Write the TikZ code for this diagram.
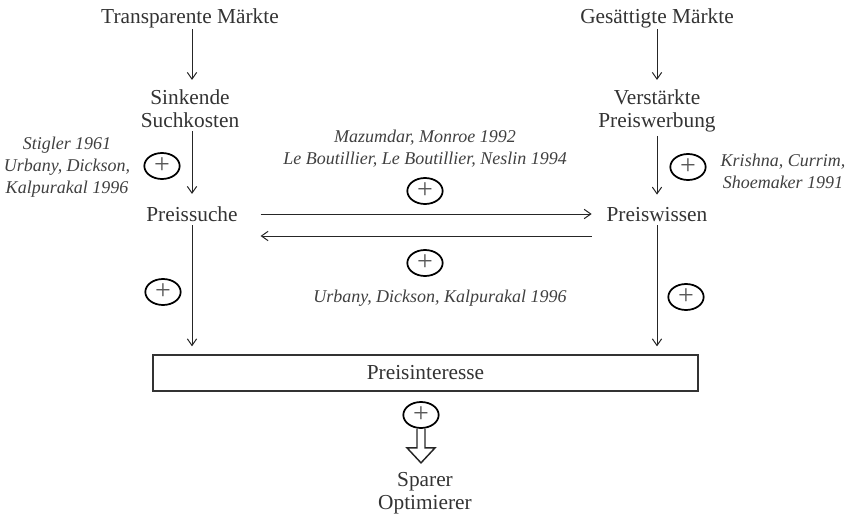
\documentclass[tikz,border=0pt]{standalone}
\usepackage{fontspec}
\setmainfont{Liberation Serif}
\usepackage{tikz}
\usetikzlibrary{positioning,arrows.meta,shapes.geometric}
\usepackage{xcolor}

\begin{document}
\begin{tikzpicture}[
    x=0.75pt, y=-0.75pt,
    begriff/.style={align=center, inner sep=1pt, font=\fontsize{16}{17}\selectfont, text=black!80},
    quelle/.style={align=center, inner sep=1pt, font=\fontsize{13.5}{16.5}\selectfont\itshape, text=black!75},
    plus/.style={draw, ellipse, line width=1.3pt, minimum width=26.5pt, minimum height=19.5pt, inner sep=0pt, font=\fontsize{21}{21}\selectfont, text=black!65},
    kasten/.style={draw, line width=1pt, draw=black!80, minimum width=408.75pt, minimum height=27pt, font=\fontsize{16}{17}\selectfont, text=black!80},
    line/.style={-{Straight Barb[length=5pt,width=7pt]}, line width=0.75pt, draw=black!85}
]
\useasboundingbox (0,0) rectangle (851,521);

\node[begriff, anchor=base] (transp) at (190,23) {Transparente Märkte};
\node[begriff, anchor=base] (gesaett) at (657,23) {Gesättigte Märkte};
\node[begriff, anchor=base] (suchk) at (190,127) {Sinkende\\Suchkosten};
\node[begriff, anchor=base] (werbung) at (657,127) {Verstärkte\\Preiswerbung};
\node[begriff, anchor=base] (suche) at (192,221) {Preissuche};
\node[begriff, anchor=base] (wissen) at (657,221) {Preiswissen};
\node[kasten] (interesse) at (425.5,373) {Preisinteresse};
\node[begriff, anchor=base] (sparer) at (425,509) {Sparer\\Optimierer};

\node[quelle] (qstigler) at (67,167) {Stigler 1961\\Urbany, Dickson,\\Kalpurakal 1996};
\node[quelle] (qmazumdar) at (425,149) {Mazumdar, Monroe 1992\\Le Boutillier, Le Boutillier, Neslin 1994};
\node[quelle] (qkrishna) at (783,171) {Krishna, Currim,\\Shoemaker 1991};
\node[quelle] (qurbany) at (440,298) {Urbany, Dickson, Kalpurakal 1996};

\node[plus] (p1) at (162,166) {+};
\node[plus] (p2) at (425,191) {+};
\node[plus] (p3) at (425,263) {+};
\node[plus] (p4) at (688,167) {+};
\node[plus] (p5) at (163,292) {+};
\node[plus] (p6) at (686,297) {+};
\node[plus] (p7) at (421,415) {+};

\coordinate (hin) at (0,214);
\coordinate (her) at (0,236);

\draw[line, shorten >=6pt] (transp.south -| 192,0) -- (suchk.north -| 192,0);
\draw[line, shorten >=6pt] (gesaett.south) -- (werbung.north -| gesaett.south);
\draw[line, shorten <=2pt, shorten >=8pt] (suchk.south -| suche.south) -- (suche.north);
\draw[line, shorten <=2pt, shorten >=8pt] (werbung.south) -- (wissen.north);
\draw[line, shorten <=2pt, shorten >=6pt] (suche.south) -- (suche.south |- interesse.north);
\draw[line, shorten <=2pt, shorten >=6pt] (wissen.south) -- (wissen.south |- interesse.north);
\draw[line, shorten <=16pt, shorten >=10pt] (suche.east |- hin) -- (wissen.west |- hin);
\draw[line, shorten <=10pt, shorten >=16pt] (wissen.west |- her) -- (suche.east |- her);

% hohler Pfeil zum Ergebnis
\draw[line width=1.1pt, draw=black!85, line join=miter]
    ([xshift=-3pt]p7.south) -- ++(0,19) -- ++(-10,0) -- ++(14,15) -- ++(14,-15)
    -- ++(-10,0) -- ([xshift=3pt]p7.south);
\end{tikzpicture}
\end{document}
